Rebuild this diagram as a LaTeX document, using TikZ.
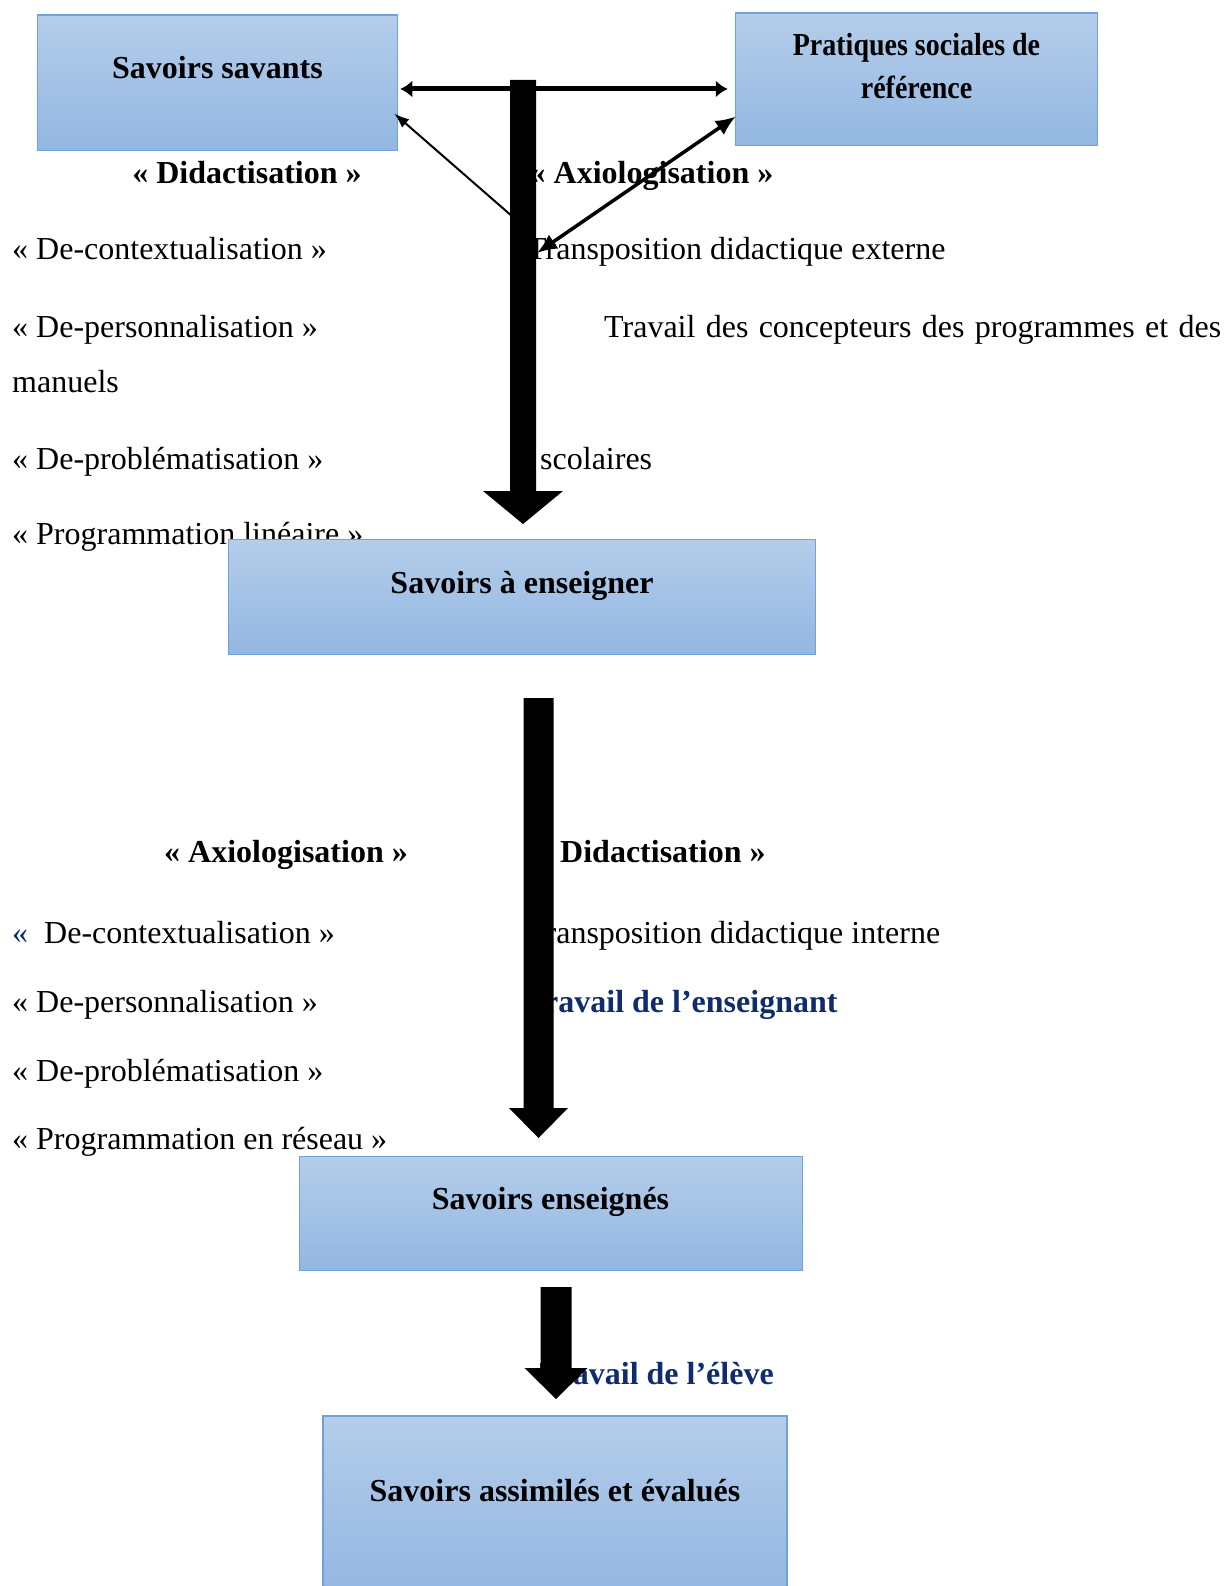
\documentclass[tikz,border=0pt]{standalone}
\usepackage{fontspec}
\setmainfont{Liberation Serif}
\usepackage{xcolor}
\usepackage{tikz}
\usetikzlibrary{arrows.meta,calc}
\definecolor{boxTop}{HTML}{B4CDEA}
\definecolor{boxBot}{HTML}{93B7E2}
\definecolor{boxLine}{HTML}{6FA1DC}
\definecolor{navyT}{HTML}{0F2C6E}

\begin{document}
\begin{tikzpicture}[x=1pt, y=-1pt,
  every node/.style={font=\fontsize{32}{43.5}\selectfont, inner sep=0pt},
  box/.style={rectangle, draw=boxLine, line width=1.5pt, top color=boxTop, bottom color=boxBot},
  txt/.style={anchor=base west},
  bold/.style={font=\fontsize{32}{43.5}\selectfont\bfseries},
  navytxt/.style={txt, bold, text=navyT},
  dbl/.style={{Latex[length=12pt,width=17pt]}-{Latex[length=12pt,width=17pt]}, line width=5pt},
  dblthin/.style={{Latex[length=20pt,width=17pt]}-{Latex[length=20pt,width=17pt]}, line width=3.5pt},
  slim/.style={-{Latex[length=15pt,width=11pt]}, line width=2pt}
]
  \useasboundingbox (0,0) rectangle (1226,1586);
  \clip (0,0) rectangle (1226,1586);

  % upper texts
  \foreach \n/\y/\t in {a/260/{« De-contextualisation »}, b/337/{« De-personnalisation »},
                        c/392/manuels, d/469/{« De-problématisation »},
                        e/544/{« Programmation linéaire »}}
     \node[txt] (up\n) at (12,\y) {\t};
  \node[bold, anchor=base] (didA) at (247,184) {« Didactisation »};
  \node[txt, bold] (axiA) at (529.5,184) {« Axiologisation »};
  \node[txt] (tde) at (527,260) {Transposition didactique externe};
  \node[txt] (trc) at (604,337) {\makebox[617pt][s]{Travail des concepteurs des programmes et des}};
  \node[txt] (sco) at (540,469) {scolaires};

  % lower texts
  \foreach \n/\y/\t in {a/943/{{\color{navyT}«}\ \ De-contextualisation »}, b/1012/{« De-personnalisation »},
                        c/1081/{« De-problématisation »}, d/1149/{« Programmation en réseau »}}
     \node[txt] (lo\n) at (12,\y) {\t};
  \node[bold, anchor=base] (axiB) at (286,862) {« Axiologisation »};
  \node[txt, bold] (didB) at (536,862) {« Didactisation »};
  \node[txt] (tdi) at (527,943) {Transposition didactique interne};
  \node[navytxt] (ens) at (525,1012) {Travail de l’enseignant};
  \node[navytxt] (elv) at (539.5,1384) {Travail de l’élève};

  % boxes
  \node[box, minimum width=360pt, minimum height=135.5pt] (ss) at (217.5,83) {};
  \node[box, minimum width=362pt, minimum height=132.5pt] (ps) at (916.5,79.5) {};
  \node[box, minimum width=587pt, minimum height=115.3pt] (se) at (522,597) {};
  \node[box, minimum width=503pt, minimum height=114.3pt] (sg) at (550.8,1213.5) {};
  \node[box, minimum width=464.3pt, minimum height=178pt] (sa) at (555,1505) {};
  \node[bold, anchor=base] (ssT) at (217.5,79) {Savoirs savants};
  \node[bold, align=center, transform shape, xscale=0.875] (psT) at (916.5,66) {Pratiques sociales de\\référence};
  \node[bold, anchor=base] (seT) at (522,593) {Savoirs à enseigner};
  \node[bold, anchor=base] (sgT) at (550.5,1209) {Savoirs enseignés};
  \node[bold, anchor=base] (saT) at (555,1501) {Savoirs assimilés et évalués};

  % thin arrows
  \coordinate (dA) at (521,224);
  \coordinate (dB) at (537,253);
  \draw[slim] (dA) -- ($(ss.south east)+(-4,-38)$);
  \draw[dblthin] (dB) -- ($(ps.south west)+(1,-30)$);
  \draw[dbl] ($(ss.east)+(2,6)$) -- ($(ps.west)+(-7,9.5)$);

  % big arrows
  \coordinate (top1) at (523,80);    \coordinate (tip1) at (523,524);
  \coordinate (top2) at (538.5,698); \coordinate (tip2) at (538.5,1138);
  \coordinate (top3) at (556,1287);  \coordinate (tip3) at (556,1399);
  \foreach \k/\s/\h/\l in {1/13/40/33, 2/15/29.5/30, 3/15.5/31.5/31}
     \fill ($(top\k)+(-\s,0)$) -- ($(tip\k)+(-\s,-\l)$) -- ($(tip\k)+(-\h,-\l)$) -- (tip\k)
        -- ($(tip\k)+(\h,-\l)$) -- ($(tip\k)+(\s,-\l)$) -- ($(top\k)+(\s,0)$) -- cycle;
\end{tikzpicture}
\end{document}
